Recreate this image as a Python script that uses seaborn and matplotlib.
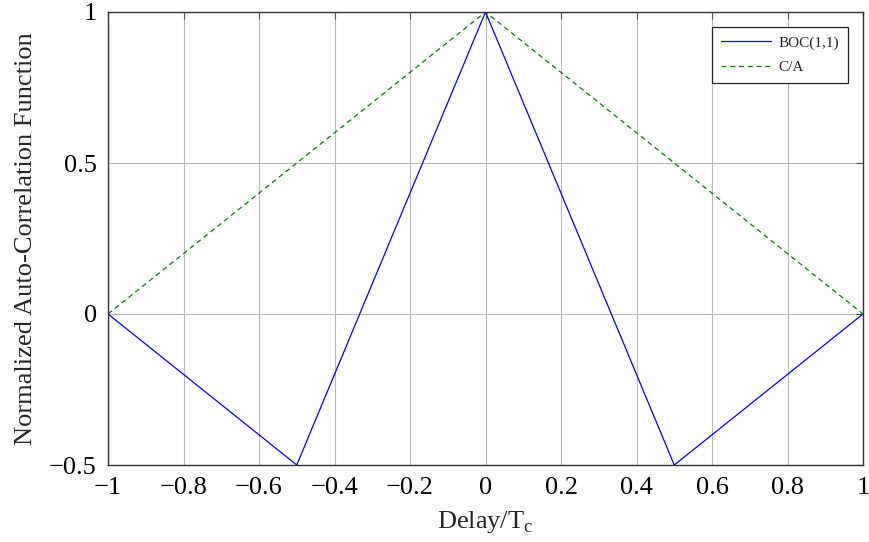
import matplotlib
matplotlib.use("Agg")
import matplotlib.pyplot as plt
import seaborn as sns
import pandas as pd

# Delay points (in chips) and normalized auto-correlation values
delay_boc = [-1.0, -0.5, 0.0, 0.5, 1.0]
acf_boc = [0.0, -0.5, 1.0, -0.5, 0.0]
delay_ca = [-1.0, 0.0, 1.0]
acf_ca = [0.0, 1.0, 0.0]

x_ticks = [-1, -0.8, -0.6, -0.4, -0.2, 0, 0.2, 0.4, 0.6, 0.8, 1]
x_tick_labels = ["\u22121", "\u22120.8", "\u22120.6", "\u22120.4", "\u22120.2", "0", "0.2", "0.4", "0.6", "0.8", "1"]
y_ticks = [-0.5, 0, 0.5, 1]
y_tick_labels = ["\u22120.5", "0", "0.5", "1"]

sns.set_theme(style="white")
plt.rcParams["font.family"] = ["Liberation Serif", "DejaVu Serif"]
plt.rcParams["mathtext.fontset"] = "custom"
plt.rcParams["mathtext.rm"] = "Liberation Serif"

df_boc = pd.DataFrame({"delay": delay_boc, "acf": acf_boc})
df_ca = pd.DataFrame({"delay": delay_ca, "acf": acf_ca})

fig = plt.figure(figsize=(8.69, 5.42), dpi=100)
ax = fig.add_axes([108 / 869, 1 - 465 / 542, (863 - 108) / 869, (465 - 12) / 542])

sns.lineplot(data=df_boc, x="delay", y="acf", ax=ax, color="blue", linewidth=0.9,
             label="BOC(1,1)", sort=False)
sns.lineplot(data=df_ca, x="delay", y="acf", ax=ax, color="#008000", linewidth=0.9,
             linestyle=(0, (4, 3)), label="C/A", sort=False)

ax.set_xlim(-1, 1)
ax.set_ylim(-0.5, 1)
ax.set_xticks(x_ticks)
ax.set_xticklabels(x_tick_labels)
ax.set_yticks(y_ticks)
ax.set_yticklabels(y_tick_labels)
ax.grid(True, color="#b8b8b8", linewidth=0.8)
ax.set_axisbelow(True)
ax.tick_params(direction="in", length=5, width=0.8, color="#555555",
               labelsize=19, pad=8, top=True, right=True, labelcolor="black")
ax.tick_params(axis="x", pad=9)
for sp in ax.spines.values():
    sp.set_color("#333333")
    sp.set_linewidth(1.0)

ax.set_xlabel("Delay/T$_\\mathrm{c}$", fontsize=19, labelpad=7)
ax.set_ylabel("Normalized Auto-Correlation Function", fontsize=19, labelpad=9)

leg = ax.legend(loc="upper right", fontsize=11, frameon=True, fancybox=False,
                edgecolor="#222222", framealpha=1, borderaxespad=1.0,
                handlelength=3.3, handletextpad=0.5, labelspacing=0.72,
                borderpad=0.55)
leg.get_frame().set_linewidth(0.9)

fig.savefig("out.png", dpi=100)
